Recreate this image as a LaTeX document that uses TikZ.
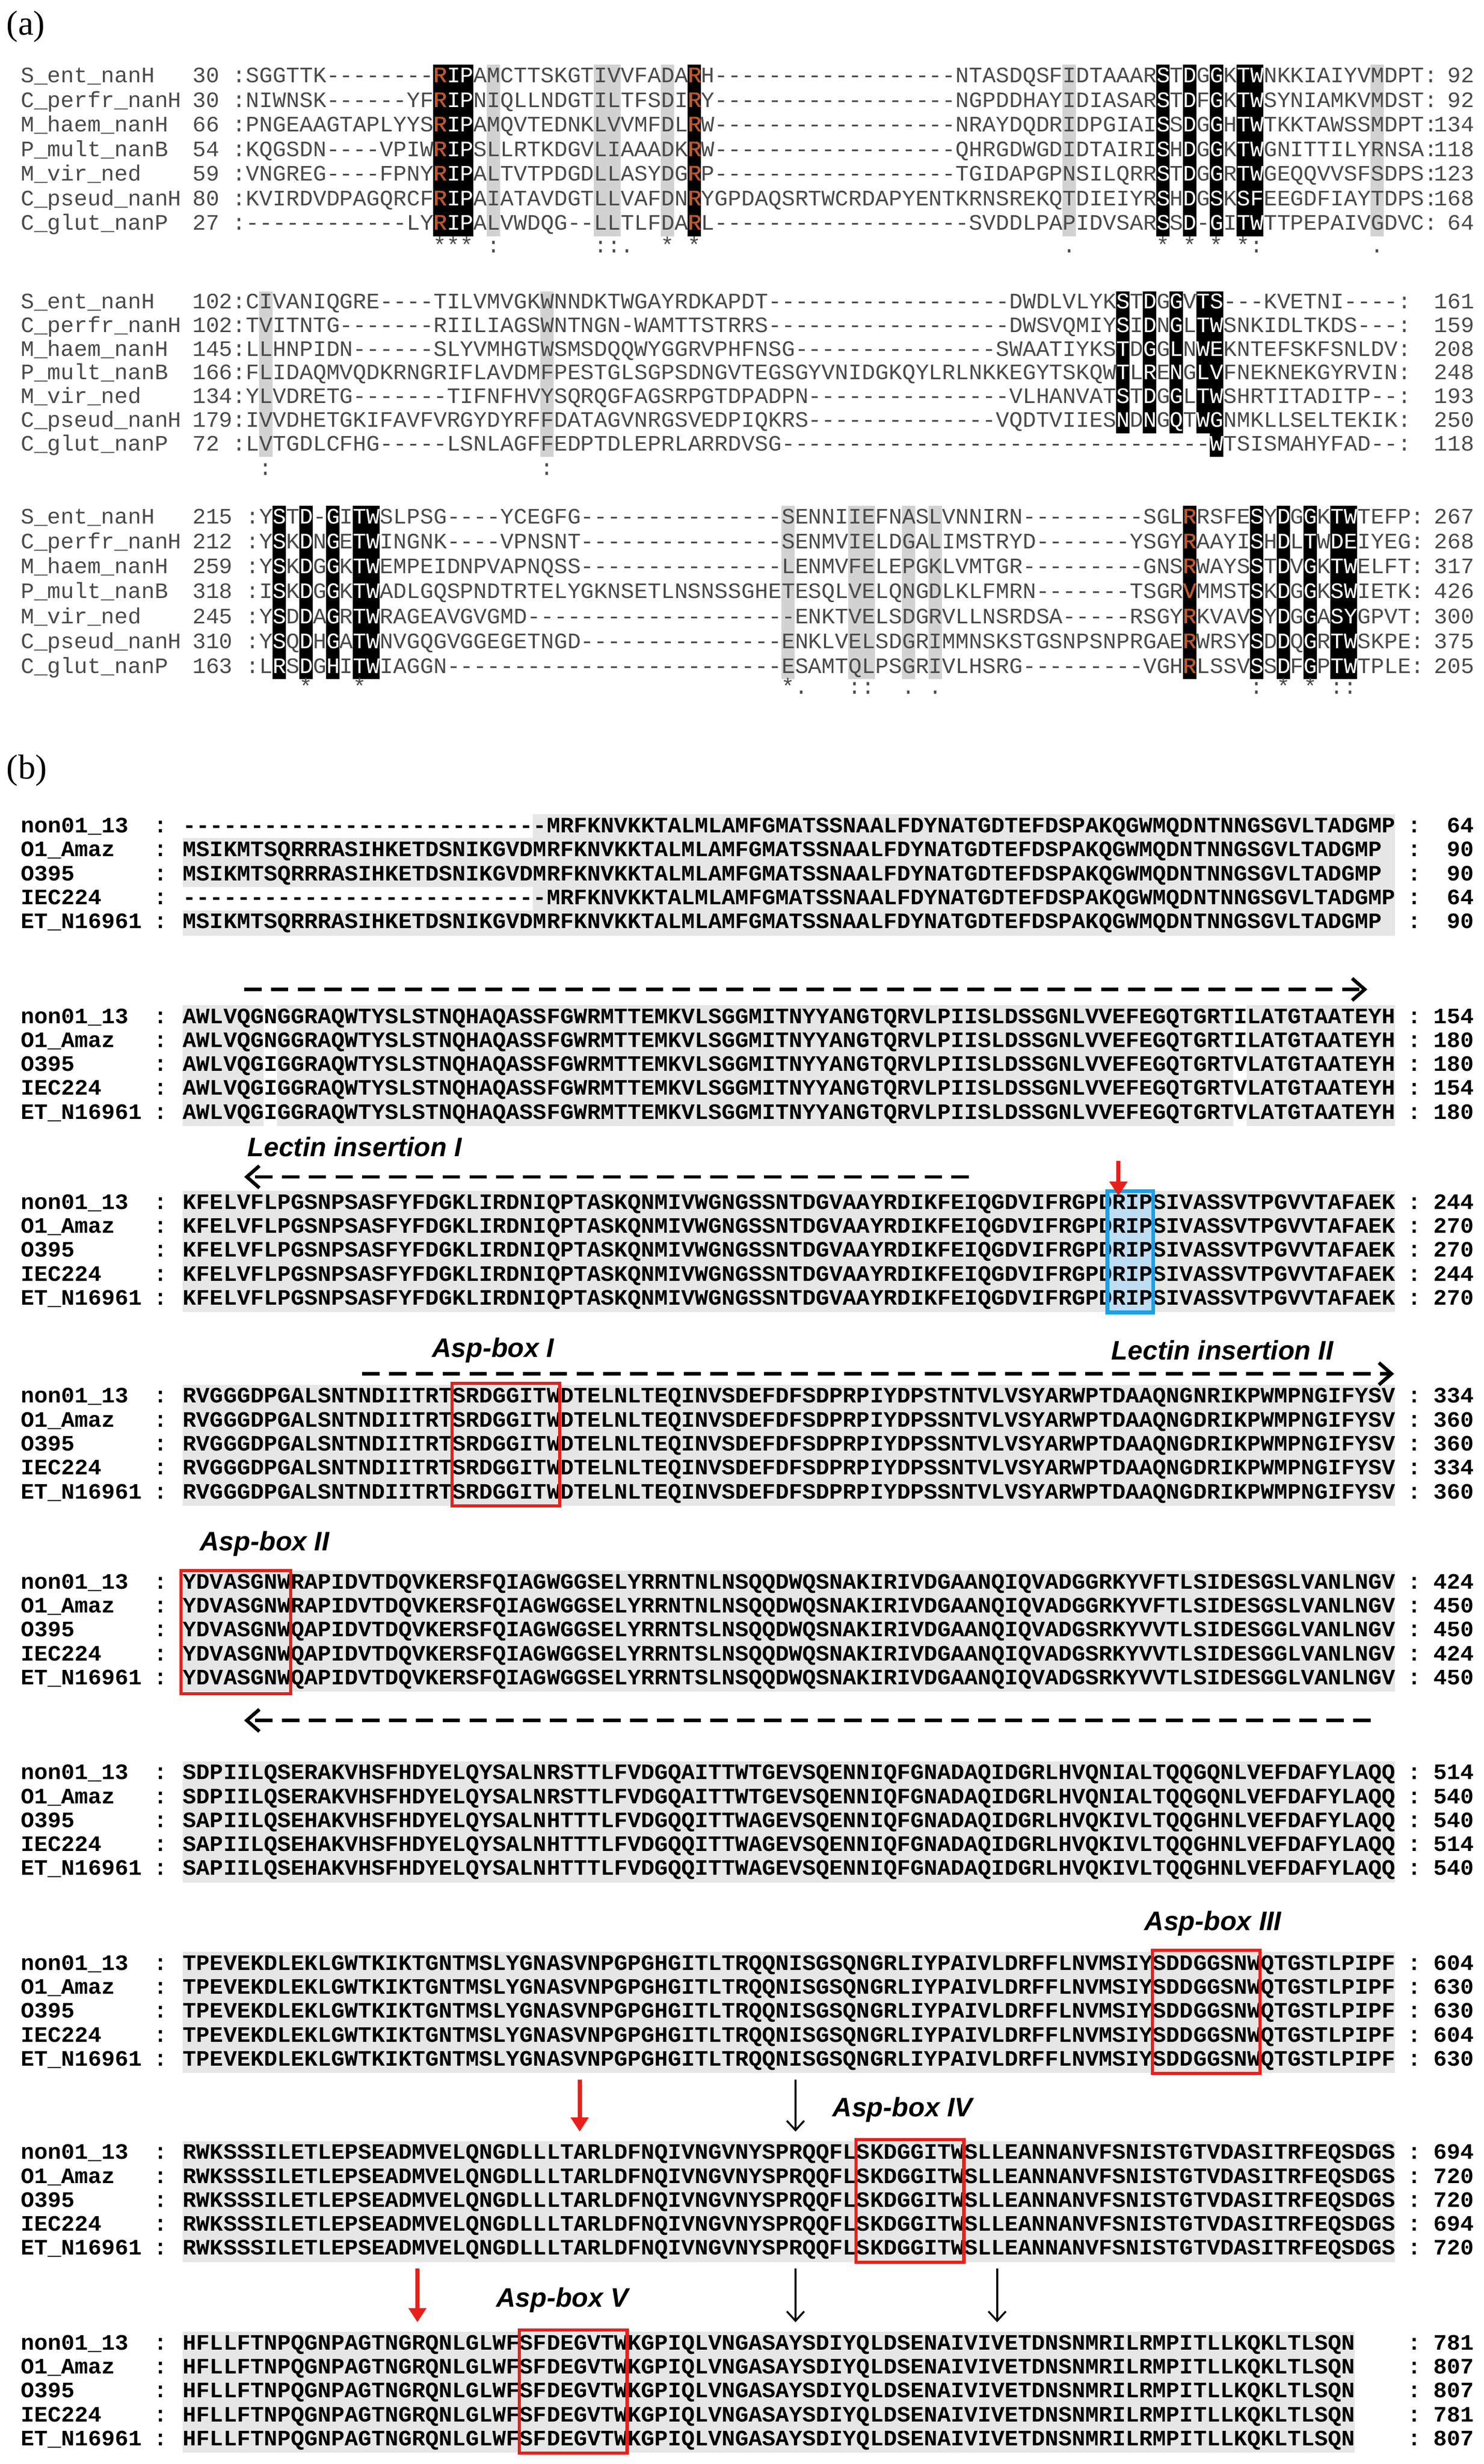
\documentclass[tikz,border=0pt]{standalone}
\usepackage{fontspec}
\setmainfont{Liberation Serif}
\newfontfamily\seqfont[FakeStretch=1.012,Ligatures=TeXOff]{Liberation Mono}
\newfontfamily\seqbfont[FakeStretch=1.018,Ligatures=TeXOff]{Liberation Mono}
\newfontfamily\labfont{Liberation Sans}
\usetikzlibrary{arrows.meta}
\definecolor{rorange}{HTML}{C8501E}
\definecolor{seqshade}{HTML}{E6E6E6}
\definecolor{agray}{HTML}{D2D2D2}
\definecolor{atext}{HTML}{4A4A4A}
\definecolor{bblue}{HTML}{1E9FE6}
\definecolor{bfill}{HTML}{BFDDF2}
\definecolor{ared}{HTML}{E8201C}
\tikzset{
 seqa/.style={font=\seqfont\fontsize{14}{16}\selectfont, inner sep=0pt, anchor=west, text height=10pt, text depth=3pt},
 seqb/.style={font=\seqbfont\bfseries\fontsize{14}{16}\selectfont, inner sep=0pt, anchor=west, text height=10pt, text depth=3pt},
 lab/.style={font=\labfont\bfseries\itshape\fontsize{17}{19}\selectfont, inner sep=0pt},
 dasharr/.style={line width=2.2pt, dash pattern=on 11pt off 6pt, -{Straight Barb[length=8pt,width=14pt,line width=2.2pt]}},
 redarr/.style={ared, line width=2.6pt, -{Triangle[length=9pt,width=11pt]}},
 blkarr/.style={black, line width=1.2pt, -{Straight Barb[length=6pt,width=11pt]}},
 redbox/.style={draw=ared, line width=2pt},
}
% ---------- part (a) data: name/startnum/sequence/endnum
\def\rowsAa{S\_ent\_nanH/30/:SGGTTK--------RIPAMCTTSKGTIVVFADARH------------------NTASDQSFIDTAAARSTDGGKTWNKKIAIYVMDPT:/92,
C\_perfr\_nanH/30/:NIWNSK------YFRIPNIQLLNDGTILTFSDIRY------------------NGPDDHAYIDIASARSTDFGKTWSYNIAMKVMDST:/92,
M\_haem\_nanH/66/:PNGEAAGTAPLYYSRIPAMQVTEDNKLVVMFDLRW------------------NRAYDQDRIDPGIAISSDGGHTWTKKTAWSSMDPT:/134,
P\_mult\_nanB/54/:KQGSDN----VPIWRIPSLLRTKDGVLIAAADKRW------------------QHRGDWGDIDTAIRISHDGGKTWGNITTILYRNSA:/118,
M\_vir\_ned/59/:VNGREG----FPNYRIPALTVTPDGDLLASYDGRP------------------TGIDAPGPNSILQRRSTDGGRTWGEQQVVSFSDPS:/123,
C\_pseud\_nanH/80/:KVIRDVDPAGQRCFRIPAIATAVDGTLLVAFDNRYGPDAQSRTWCRDAPYENTKRNSREKQTDIEIYRSHDGSKSFEEGDFIAYTDPS:/168,
C\_glut\_nanP/27/:------------LYRIPALVWDQG--LLTLFDARL-------------------SVDDLPAPIDVSARSSD-GITWTTPEPAIVGDVC:/64}
\def\rowsAb{S\_ent\_nanH/102/:CIVANIQGRE----TILVMVGKWNNDKTWGAYRDKAPDT------------------DWDLVLYKSTDGGVTS---KVETNI----:/161,
C\_perfr\_nanH/102/:TVITNTG-------RIILIAGSWNTNGN-WAMTTSTRRS------------------DWSVQMIYSIDNGLTWSNKIDLTKDS---:/159,
M\_haem\_nanH/145/:LLHNPIDN------SLYVMHGTWSMSDQQWYGGRVPHFNSG---------------SWAATIYKSTDGGLNWEKNTEFSKFSNLDV:/208,
P\_mult\_nanB/166/:FLIDAQMVQDKRNGRIFLAVDMFPESTGLSGPSDNGVTEGSGYVNIDGKQYLRLNKKEGYTSKQWTLRENGLVFNEKNEKGYRVIN:/248,
M\_vir\_ned/134/:YLVDRETG-------TIFNFHVYSQRQGFAGSRPGTDPADPN---------------VLHANVATSTDGGLTWSHRTITADITP--:/193,
C\_pseud\_nanH/179/:IVVDHETGKIFAVFVRGYDYRFFDATAGVNRGSVEDPIQKRS--------------VQDTVIIESNDNGQTWGNMKLLSELTEKIK:/250,
C\_glut\_nanP/72/:LVTGDLCFHG-----LSNLAGFFEDPTDLEPRLARRDVSG--------------------------------WTSISMAHYFAD--:/118}
\def\rowsAc{S\_ent\_nanH/215/:YSTD-GITWSLPSG----YCEGFG---------------SENNIIEFNASLVNNIRN---------SGLRRSFESYDGGKTWTEFP:/267,
C\_perfr\_nanH/212/:YSKDNGETWINGNK----VPNSNT---------------SENMVIELDGALIMSTRYD-------YSGYRAAYISHDLTWDEIYEG:/268,
M\_haem\_nanH/259/:YSKDGGKTWEMPEIDNPVAPNQSS---------------LENMVFELEPGKLVMTGR---------GNSRWAYSSTDVGKTWELFT:/317,
P\_mult\_nanB/318/:ISKDGGKTWADLGQSPNDTRTELYGKNSETLNSNSSGHETESQLVELQNGDLKLFMRN-------TSGRVMMSTSKDGGKSWIETK:/426,
M\_vir\_ned/245/:YSDDAGRTWRAGEAVGVGMD--------------------ENKTVELSDGRVLLNSRDSA-----RSGYRKVAVSYDGGASYGPVT:/300,
C\_pseud\_nanH/310/:YSQDHGATWNVGQGVGGEGETNGD---------------ENKLVELSDGRIMMNSKSTGSNPSNPRGAERWRSYSDDQGRTWSKPE:/375,
C\_glut\_nanP/163/:LRSDGHITWIAGGN-------------------------ESAMTQLPSGRIVLHSRG---------VGHRLSSVSSDFGPTWTPLE:/205}
% #1 X0, #2 y0, #3 dy, #4 list, #5 colour, #6 id
\newcommand\drawA[6]{%
 \foreach \nm/\na/\sq/\ne [count=\i] in #4 {
   \pgfmathsetmacro\yy{#2+#3*(\i-1)}
   \node[seqa,text=#5] (a#6s\i) at (#1,\yy) {\sq};
 }}
\newcommand\labelsA[5]{%
 \foreach \nm/\na/\sq/\ne [count=\i] in #4 {
   \pgfmathsetmacro\yy{#2+#3*(\i-1)}
   \node[seqa,text=atext] (a#5n\i) at (13,\yy) {\nm};
   \node[seqa,text=atext] (a#5b\i) at (122,\yy) {\na};
   \node[seqa,text=atext,anchor=east] (a#5e\i) at (936,\yy) {\ne};
 }}
% ---------- part (b)
\newcommand\bnameof[1]{\ifcase#1\or non01\_13\or O1\_Amaz\or O395\or IEC224\or ET\_N16961\fi}
\newcommand\drawB[3]{%
 \foreach \sq/\ne [count=\i] in #2 {
   \pgfmathsetmacro\yy{#1+15.2*(\i-1)}
   \node[seqb] (b#3n\i) at (13,\yy) {\bnameof{\i}};
   \node[seqb,anchor=center] (b#3c\i) at (102,\yy) {:};
   \node[seqb] (b#3s\i) at (116,\yy) {\sq};
   \node[seqb,anchor=center] (b#3d\i) at (898,\yy) {:};
   \node[seqb,anchor=east] (b#3e\i) at (936,\yy) {\ne};
 }}
\def\bA{---------------------------MRFKNVKKTALMLAMFGMATSSNAALFDYNATGDTEFDSPAKQGWMQDNTNNGSGVLTADGMP/64,
MSIKMTSQRRRASIHKETDSNIKGVDMRFKNVKKTALMLAMFGMATSSNAALFDYNATGDTEFDSPAKQGWMQDNTNNGSGVLTADGMP/90,
MSIKMTSQRRRASIHKETDSNIKGVDMRFKNVKKTALMLAMFGMATSSNAALFDYNATGDTEFDSPAKQGWMQDNTNNGSGVLTADGMP/90,
---------------------------MRFKNVKKTALMLAMFGMATSSNAALFDYNATGDTEFDSPAKQGWMQDNTNNGSGVLTADGMP/64,
MSIKMTSQRRRASIHKETDSNIKGVDMRFKNVKKTALMLAMFGMATSSNAALFDYNATGDTEFDSPAKQGWMQDNTNNGSGVLTADGMP/90}
\def\bB{AWLVQGNGGRAQWTYSLSTNQHAQASSFGWRMTTEMKVLSGGMITNYYANGTQRVLPIISLDSSGNLVVEFEGQTGRTILATGTAATEYH/154,
AWLVQGNGGRAQWTYSLSTNQHAQASSFGWRMTTEMKVLSGGMITNYYANGTQRVLPIISLDSSGNLVVEFEGQTGRTILATGTAATEYH/180,
AWLVQGIGGRAQWTYSLSTNQHAQASSFGWRMTTEMKVLSGGMITNYYANGTQRVLPIISLDSSGNLVVEFEGQTGRTVLATGTAATEYH/180,
AWLVQGIGGRAQWTYSLSTNQHAQASSFGWRMTTEMKVLSGGMITNYYANGTQRVLPIISLDSSGNLVVEFEGQTGRTVLATGTAATEYH/154,
AWLVQGIGGRAQWTYSLSTNQHAQASSFGWRMTTEMKVLSGGMITNYYANGTQRVLPIISLDSSGNLVVEFEGQTGRTVLATGTAATEYH/180}
\def\bC{KFELVFLPGSNPSASFYFDGKLIRDNIQPTASKQNMIVWGNGSSNTDGVAAYRDIKFEIQGDVIFRGPDRIPSIVASSVTPGVVTAFAEK/244,
KFELVFLPGSNPSASFYFDGKLIRDNIQPTASKQNMIVWGNGSSNTDGVAAYRDIKFEIQGDVIFRGPDRIPSIVASSVTPGVVTAFAEK/270,
KFELVFLPGSNPSASFYFDGKLIRDNIQPTASKQNMIVWGNGSSNTDGVAAYRDIKFEIQGDVIFRGPDRIPSIVASSVTPGVVTAFAEK/270,
KFELVFLPGSNPSASFYFDGKLIRDNIQPTASKQNMIVWGNGSSNTDGVAAYRDIKFEIQGDVIFRGPDRIPSIVASSVTPGVVTAFAEK/244,
KFELVFLPGSNPSASFYFDGKLIRDNIQPTASKQNMIVWGNGSSNTDGVAAYRDIKFEIQGDVIFRGPDRIPSIVASSVTPGVVTAFAEK/270}
\def\bD{RVGGGDPGALSNTNDIITRTSRDGGITWDTELNLTEQINVSDEFDFSDPRPIYDPSTNTVLVSYARWPTDAAQNGNRIKPWMPNGIFYSV/334,
RVGGGDPGALSNTNDIITRTSRDGGITWDTELNLTEQINVSDEFDFSDPRPIYDPSSNTVLVSYARWPTDAAQNGDRIKPWMPNGIFYSV/360,
RVGGGDPGALSNTNDIITRTSRDGGITWDTELNLTEQINVSDEFDFSDPRPIYDPSSNTVLVSYARWPTDAAQNGDRIKPWMPNGIFYSV/360,
RVGGGDPGALSNTNDIITRTSRDGGITWDTELNLTEQINVSDEFDFSDPRPIYDPSSNTVLVSYARWPTDAAQNGDRIKPWMPNGIFYSV/334,
RVGGGDPGALSNTNDIITRTSRDGGITWDTELNLTEQINVSDEFDFSDPRPIYDPSSNTVLVSYARWPTDAAQNGDRIKPWMPNGIFYSV/360}
\def\bE{YDVASGNWRAPIDVTDQVKERSFQIAGWGGSELYRRNTNLNSQQDWQSNAKIRIVDGAANQIQVADGGRKYVFTLSIDESGSLVANLNGV/424,
YDVASGNWRAPIDVTDQVKERSFQIAGWGGSELYRRNTNLNSQQDWQSNAKIRIVDGAANQIQVADGGRKYVFTLSIDESGSLVANLNGV/450,
YDVASGNWQAPIDVTDQVKERSFQIAGWGGSELYRRNTSLNSQQDWQSNAKIRIVDGAANQIQVADGSRKYVVTLSIDESGGLVANLNGV/450,
YDVASGNWQAPIDVTDQVKERSFQIAGWGGSELYRRNTSLNSQQDWQSNAKIRIVDGAANQIQVADGSRKYVVTLSIDESGGLVANLNGV/424,
YDVASGNWQAPIDVTDQVKERSFQIAGWGGSELYRRNTSLNSQQDWQSNAKIRIVDGAANQIQVADGSRKYVVTLSIDESGGLVANLNGV/450}
\def\bF{SDPIILQSERAKVHSFHDYELQYSALNRSTTLFVDGQAITTWTGEVSQENNIQFGNADAQIDGRLHVQNIALTQQGQNLVEFDAFYLAQQ/514,
SDPIILQSERAKVHSFHDYELQYSALNRSTTLFVDGQAITTWTGEVSQENNIQFGNADAQIDGRLHVQNIALTQQGQNLVEFDAFYLAQQ/540,
SAPIILQSEHAKVHSFHDYELQYSALNHTTTLFVDGQQITTWAGEVSQENNIQFGNADAQIDGRLHVQKIVLTQQGHNLVEFDAFYLAQQ/540,
SAPIILQSEHAKVHSFHDYELQYSALNHTTTLFVDGQQITTWAGEVSQENNIQFGNADAQIDGRLHVQKIVLTQQGHNLVEFDAFYLAQQ/514,
SAPIILQSEHAKVHSFHDYELQYSALNHTTTLFVDGQQITTWAGEVSQENNIQFGNADAQIDGRLHVQKIVLTQQGHNLVEFDAFYLAQQ/540}
\def\bG{TPEVEKDLEKLGWTKIKTGNTMSLYGNASVNPGPGHGITLTRQQNISGSQNGRLIYPAIVLDRFFLNVMSIYSDDGGSNWQTGSTLPIPF/604,
TPEVEKDLEKLGWTKIKTGNTMSLYGNASVNPGPGHGITLTRQQNISGSQNGRLIYPAIVLDRFFLNVMSIYSDDGGSNWQTGSTLPIPF/630,
TPEVEKDLEKLGWTKIKTGNTMSLYGNASVNPGPGHGITLTRQQNISGSQNGRLIYPAIVLDRFFLNVMSIYSDDGGSNWQTGSTLPIPF/630,
TPEVEKDLEKLGWTKIKTGNTMSLYGNASVNPGPGHGITLTRQQNISGSQNGRLIYPAIVLDRFFLNVMSIYSDDGGSNWQTGSTLPIPF/604,
TPEVEKDLEKLGWTKIKTGNTMSLYGNASVNPGPGHGITLTRQQNISGSQNGRLIYPAIVLDRFFLNVMSIYSDDGGSNWQTGSTLPIPF/630}
\def\bH{RWKSSSILETLEPSEADMVELQNGDLLLTARLDFNQIVNGVNYSPRQQFLSKDGGITWSLLEANNANVFSNISTGTVDASITRFEQSDGS/694,
RWKSSSILETLEPSEADMVELQNGDLLLTARLDFNQIVNGVNYSPRQQFLSKDGGITWSLLEANNANVFSNISTGTVDASITRFEQSDGS/720,
RWKSSSILETLEPSEADMVELQNGDLLLTARLDFNQIVNGVNYSPRQQFLSKDGGITWSLLEANNANVFSNISTGTVDASITRFEQSDGS/720,
RWKSSSILETLEPSEADMVELQNGDLLLTARLDFNQIVNGVNYSPRQQFLSKDGGITWSLLEANNANVFSNISTGTVDASITRFEQSDGS/694,
RWKSSSILETLEPSEADMVELQNGDLLLTARLDFNQIVNGVNYSPRQQFLSKDGGITWSLLEANNANVFSNISTGTVDASITRFEQSDGS/720}
\def\bI{HFLLFTNPQGNPAGTNGRQNLGLWFSFDEGVTWKGPIQLVNGASAYSDIYQLDSENAIVIVETDNSNMRILRMPITLLKQKLTLSQN/781,
HFLLFTNPQGNPAGTNGRQNLGLWFSFDEGVTWKGPIQLVNGASAYSDIYQLDSENAIVIVETDNSNMRILRMPITLLKQKLTLSQN/807,
HFLLFTNPQGNPAGTNGRQNLGLWFSFDEGVTWKGPIQLVNGASAYSDIYQLDSENAIVIVETDNSNMRILRMPITLLKQKLTLSQN/807,
HFLLFTNPQGNPAGTNGRQNLGLWFSFDEGVTWKGPIQLVNGASAYSDIYQLDSENAIVIVETDNSNMRILRMPITLLKQKLTLSQN/781,
HFLLFTNPQGNPAGTNGRQNLGLWFSFDEGVTWKGPIQLVNGASAYSDIYQLDSENAIVIVETDNSNMRILRMPITLLKQKLTLSQN/807}
\begin{document}
\begin{tikzpicture}[x=1pt,y=-1pt]
\useasboundingbox[fill=white] (0,0) rectangle (942,1564);
% ================= (a)
\node[font=\fontsize{22}{24}\selectfont, anchor=west, inner sep=0] (la) at (4,17) {(a)};
% block a1
\fill[agray] foreach \c in {19,27,28,32,62,85} {({147.5+8.5*\c},41) rectangle ++(8.5,109)};
\fill[black] foreach \c in {15,16,17,34,69,71,73,75,76} {({147.5+8.5*\c},41) rectangle ++(8.5,109)};
\drawA{147.5}{49}{15.6}{\rowsAa}{atext}{1}
\labelsA{147.5}{49}{15.6}{\rowsAa}{1}
\begin{scope}
\clip foreach \c in {15,16,17,34,69,71,73,75,76} {({147.5+8.5*\c},41) rectangle ++(8.5,109)};
\drawA{147.5}{49}{15.6}{\rowsAa}{white}{1w}
\end{scope}
\begin{scope}
\clip foreach \c in {15,34} {({147.5+8.5*\c},41) rectangle ++(8.5,109)};
\drawA{147.5}{49}{15.6}{\rowsAa}{rorange}{1o}
\end{scope}
\foreach \c/\m in {15/*,16/*,17/*,19/:,27/:,28/:,29/.,32/*,34/*,62/.,69/*,71/*,73/*,75/*,76/:,85/.}
  \node[seqa,anchor=center,text=atext] (am1\c) at ({147.5+8.5*\c+4.25},157) {\m};
% block a2
\fill[agray] foreach \c in {2,23} {({147.5+8.5*\c},185) rectangle ++(8.5,105)};
\fill[black] foreach \c in {66,68,70,72} {({147.5+8.5*\c},185) rectangle ++(8.5,90)}
             ({147.5+8.5*73},185) rectangle ++(8.5,105);
\drawA{147.5}{192.5}{15}{\rowsAb}{atext}{2}
\labelsA{147.5}{192.5}{15}{\rowsAb}{2}
\begin{scope}
\clip foreach \c in {66,68,70,72} {({147.5+8.5*\c},185) rectangle ++(8.5,90)}
             ({147.5+8.5*73},185) rectangle ++(8.5,105);
\drawA{147.5}{192.5}{15}{\rowsAb}{white}{2w}
\end{scope}
\foreach \c/\m in {2/:,23/:}
  \node[seqa,anchor=center,text=atext] (am2\c) at ({147.5+8.5*\c+4.25},298) {\m};
% block a3
\fill[agray] foreach \c in {40,45,46,49,51} {({156+8.5*\c},321) rectangle ++(8.5,110)};
\fill[black] foreach \c in {2,4,6,8,9,70,75,77,79,81,82} {({156+8.5*\c},321) rectangle ++(8.5,110)};
\drawA{156}{329}{15.8}{\rowsAc}{atext}{3}
\labelsA{156}{329}{15.8}{\rowsAc}{3}
\begin{scope}
\clip foreach \c in {2,4,6,8,9,70,75,77,79,81,82} {({156+8.5*\c},321) rectangle ++(8.5,110)};
\drawA{156}{329}{15.8}{\rowsAc}{white}{3w}
\end{scope}
\begin{scope}
\clip ({156+8.5*70},321) rectangle ++(8.5,110);
\drawA{156}{329}{15.8}{\rowsAc}{rorange}{3o}
\end{scope}
\foreach \c/\m in {4/*,8/*,40/*,41/.,45/:,46/:,49/.,51/.,75/:,77/*,79/*,81/:,82/:}
  \node[seqa,anchor=center,text=atext] (am3\c) at ({156+8.5*\c+4.25},437) {\m};
% ================= (b)
\node[font=\fontsize{22}{24}\selectfont, anchor=west, inner sep=0] (lb) at (4,489) {(b)};
% shading
\fill[seqshade] ({116+8.55*26},517) rectangle (885.5,594);
\fill[seqshade] (116,532) rectangle ({116+8.55*26},563) (116,578) rectangle ({116+8.55*26},594);
\foreach \y in {646,764,887,1005,1126,1247,1367} {\fill[seqshade] (116,\y-8) rectangle (885.5,\y+68.8);}
\fill[seqshade] (116,1480) rectangle ({116+8.55*87},1556.8);
\fill[white] ({116+8.55*6},638) rectangle ++(8.55,76.8) ({116+8.55*78},638) rectangle ++(8.55,76.8);
\fill[bfill] (703,756) rectangle (732,833);
% text
\drawB{525}{\bA}{1}
\drawB{646}{\bB}{2}
\drawB{764}{\bC}{3}
\drawB{887}{\bD}{4}
\drawB{1005}{\bE}{5}
\drawB{1126}{\bF}{6}
\drawB{1247}{\bG}{7}
\drawB{1367}{\bH}{8}
\drawB{1488}{\bI}{9}
% boxes
\draw[bblue, line width=2.4pt] (703,756) rectangle (732,833);
\draw[redbox] ({116+8.55*20},878) rectangle ({116+8.55*28},956);
\draw[redbox] ({116+8.55*0-1},997) rectangle ({116+8.55*8},1075);
\draw[redbox] ({116+8.55*72},1238) rectangle ({116+8.55*80},1316);
\draw[redbox] ({116+8.55*50},1358) rectangle ({116+8.55*58},1436);
\draw[redbox] ({116+8.55*25},1479) rectangle ({116+8.55*33},1557);
% dashed arrows
\coordinate (d1a) at (155,628); \coordinate (d1b) at (868,628);
\coordinate (d2a) at (615,747); \coordinate (d2b) at (155,747);
\coordinate (d3a) at (230,872); \coordinate (d3b) at (885,872);
\coordinate (d4a) at (870,1092); \coordinate (d4b) at (155,1092);
\draw[dasharr] (d1a) -- (d1b);
\draw[dasharr] (d2a) -- (d2b);
\draw[dasharr] (d3a) -- (d3b);
\draw[dasharr] (d4a) -- (d4b);
% labels
\node[lab, anchor=west] (l1) at (157,728) {Lectin insertion I};
\node[lab] (l2) at (313,857) {Asp-box I};
\node[lab] (l3) at (776,857) {Lectin insertion II};
\node[lab] (l4) at (168,980) {Asp-box II};
\node[lab] (l5) at (770,1221) {Asp-box III};
\node[lab] (l6) at (573,1339) {Asp-box IV};
\node[lab] (l7) at (357,1460) {Asp-box V};
% vertical arrows
\coordinate (r1a) at (710,737); \coordinate (r1b) at (710,759);
\coordinate (r2a) at (368,1320); \coordinate (r2b) at (368,1353);
\coordinate (k1a) at (505,1320); \coordinate (k1b) at (505,1353);
\coordinate (r3a) at (265,1440); \coordinate (r3b) at (265,1474);
\coordinate (k2a) at (505,1440); \coordinate (k2b) at (505,1474);
\coordinate (k3a) at (633,1440); \coordinate (k3b) at (633,1474);
\draw[redarr] (r1a) -- (r1b);
\draw[redarr] (r2a) -- (r2b);
\draw[redarr] (r3a) -- (r3b);
\draw[blkarr] (k1a) -- (k1b);
\draw[blkarr] (k2a) -- (k2b);
\draw[blkarr] (k3a) -- (k3b);
\end{tikzpicture}
\end{document}
